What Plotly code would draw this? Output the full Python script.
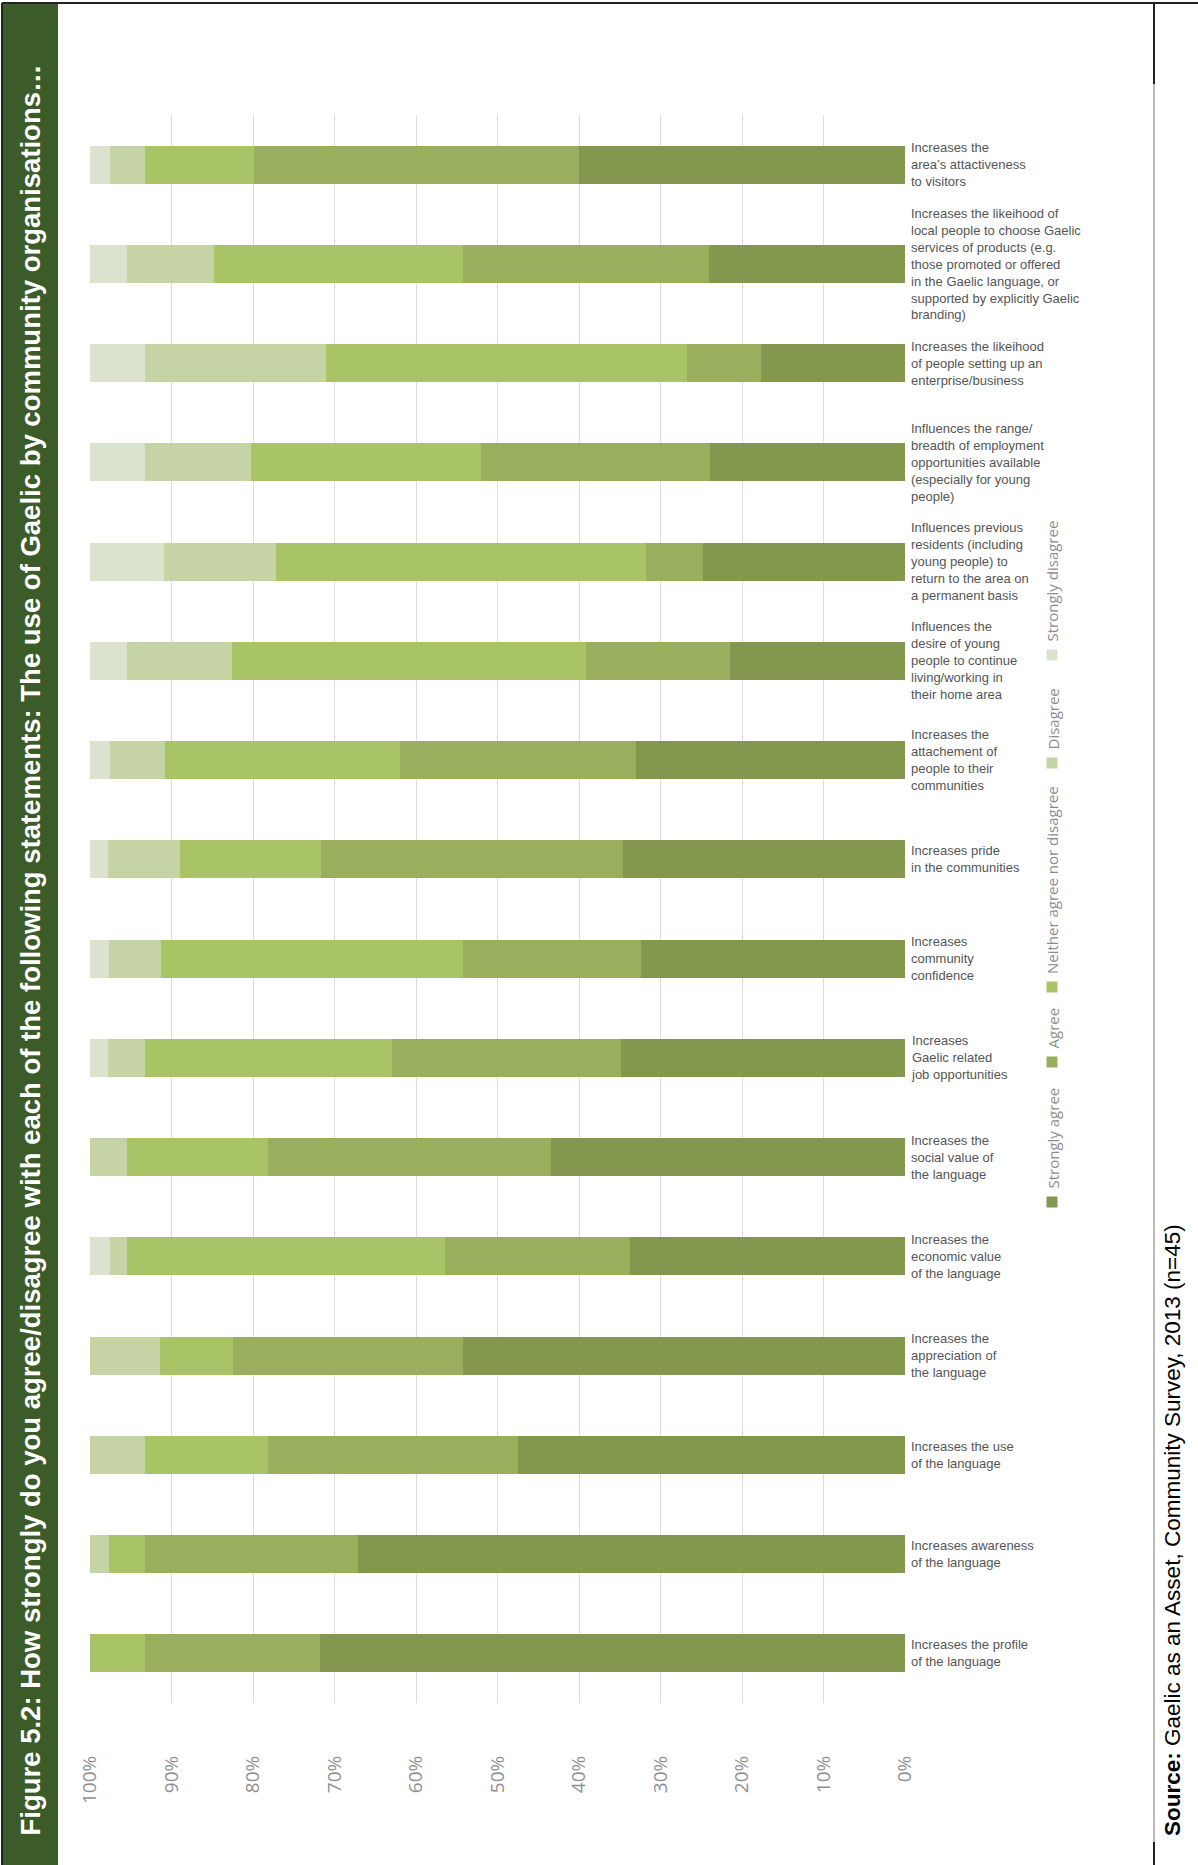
import plotly.graph_objects as go

# ---------------- data (top to bottom, as printed) ----------------
categories = [
    "Increases the<br>area’s attactiveness<br>to visitors",
    "Increases the likeihood of<br>local people to choose Gaelic<br>services of products (e.g.<br>those promoted or offered<br>in the Gaelic language, or<br>supported by explicitly Gaelic<br>branding)",
    "Increases the likeihood<br>of people setting up an<br>enterprise/business",
    "Influences the range/<br>breadth of employment<br>opportunities available<br>(especially for young<br>people)",
    "Influences previous<br>residents (including<br>young people) to<br>return to the area on<br>a permanent basis",
    "Influences the<br>desire of young<br>people to continue<br>living/working in<br>their home area",
    "Increases the<br>attachement of<br>people to their<br>communities",
    "Increases pride<br>in the communities",
    "Increases<br>community<br>confidence",
    "Increases<br>Gaelic related<br>job opportunities",
    "Increases the<br>social value of<br>the language",
    "Increases the<br>economic value<br>of the language",
    "Increases the<br>appreciation of<br>the language",
    "Increases the use<br>of the language",
    "Increases awareness<br>of the language",
    "Increases the profile<br>of the language",
]
strongly_agree    = [40.0, 24.1, 17.7, 23.9, 24.8, 21.5, 33.0, 34.6, 32.4, 34.8, 43.4, 33.8, 54.2, 47.5, 67.1, 71.8]
agree             = [39.9, 30.1,  9.0, 28.1,  7.0, 17.6, 29.0, 37.1, 21.8, 28.2, 34.7, 22.6, 28.2, 30.6, 26.1, 21.5]
neither           = [13.3, 30.6, 44.3, 28.2, 45.4, 43.5, 28.8, 17.3, 37.1, 30.2, 17.3, 39.0,  9.0, 15.1,  4.5,  6.8]
disagree          = [ 4.3, 10.6, 22.3, 13.0, 13.7, 12.8,  6.7,  8.8,  6.4,  4.6,  4.7,  2.2,  8.6,  6.8,  2.3,  0.0]
strongly_disagree = [ 2.5,  4.7,  6.8,  6.8,  9.1,  4.7,  2.5,  2.3,  2.3,  2.2,  0.0,  2.5,  0.0,  0.0,  0.0,  0.0]

series_names = ["Strongly agree", "Agree", "Neither agree nor disagree", "Disagree", "Strongly disagree"]
series_values = [strongly_agree, agree, neither, disagree, strongly_disagree]
series_colors = ["#84974f", "#9aaf5e", "#a9c367", "#c6d4a5", "#dbe2cd"]

tick_vals = list(range(0, 101, 10))
tick_text = [f"{v}%" for v in tick_vals]

title_text = ("Figure 5.2: How strongly do you agree/disagree with each of the following "
              "statements: The use of Gaelic by community organisations…")
source_text = "<b>Source:</b> Gaelic as an Asset, Community Survey, 2013 (n=45)"

# ---------------- layout geometry (page pixels) ----------------
W, H = 1198, 1865
PL, PR, PT, PB = 90, 905, 115, 1703   # plot area


def px(X):
    return (X - PL) / (PR - PL)


def py(Y):
    return 1 - (Y - PT) / (PB - PT)


fig = go.Figure()
for name, vals, col in zip(series_names, series_values, series_colors):
    fig.add_trace(go.Bar(
        y=categories, x=vals, name=name, orientation="h",
        marker=dict(color=col, line=dict(width=0)),
        showlegend=False,
    ))

shapes = [
    # green title band
    dict(type="rect", xref="paper", yref="paper", x0=px(3), x1=px(58), y0=py(1866), y1=py(3),
         fillcolor="#3b5b29", line=dict(width=0), layer="above"),
    # top border
    dict(type="line", xref="paper", yref="paper", x0=px(2), x1=px(1198), y0=py(3), y1=py(3),
         line=dict(color="#222", width=2)),
    # left border
    dict(type="line", xref="paper", yref="paper", x0=px(2), x1=px(2), y0=py(3), y1=py(1866),
         line=dict(color="#222", width=2)),
    # right divider
    dict(type="line", xref="paper", yref="paper", x0=px(1154), x1=px(1154), y0=py(3), y1=py(1866),
         line=dict(color="#777", width=1)),
    dict(type="line", xref="paper", yref="paper", x0=px(1154), x1=px(1154), y0=py(3), y1=py(84),
         line=dict(color="#222", width=2)),
    dict(type="line", xref="paper", yref="paper", x0=px(1154), x1=px(1154), y0=py(1842), y1=py(1866),
         line=dict(color="#222", width=2)),
]

annotations = []
# category labels to the right of the bars
for cat in categories:
    annotations.append(dict(
        xref="paper", yref="y", x=px(909), y=cat, text=cat, showarrow=False,
        xanchor="left", yanchor="middle", align="left",
        font=dict(family="Liberation Sans, Arial, sans-serif", size=13, color="#555555"),
    ))

# title (rotated)
annotations.append(dict(
    xref="paper", yref="paper", x=px(30), y=py(1838), text=f"<b>{title_text}</b>",
    showarrow=False, textangle=-90, xanchor="center", yanchor="bottom",
    font=dict(family="Liberation Sans, Arial, sans-serif", size=27.5, color="white"),
))
# source (rotated)
annotations.append(dict(
    xref="paper", yref="paper", x=px(1172), y=py(1838), text=source_text,
    showarrow=False, textangle=-90, xanchor="center", yanchor="bottom",
    font=dict(family="Liberation Sans, Arial, sans-serif", size=22.5, color="black"),
))

# manual rotated legend
LX = 1052
legend_y = [1202, 1062, 987, 763, 655]
for name, col, yc in zip(series_names, series_colors, legend_y):
    shapes.append(dict(type="rect", xref="paper", yref="paper",
                       x0=px(LX - 5.5), x1=px(LX + 5.5), y0=py(yc + 5.5), y1=py(yc - 5.5),
                       fillcolor=col, line=dict(width=0)))
    annotations.append(dict(
        xref="paper", yref="paper", x=px(LX), y=py(yc - 11), text=name,
        showarrow=False, textangle=-90, xanchor="center", yanchor="bottom",
        font=dict(family="Open Sans, sans-serif", size=15, color="#8c8c8c"),
    ))

fig.update_layout(
    width=W, height=H,
    margin=dict(l=PL, r=W - PR, t=PT, b=H - PB, pad=0),
    paper_bgcolor="white", plot_bgcolor="rgba(0,0,0,0)",
    barmode="stack", bargap=0.617,
    shapes=shapes, annotations=annotations,
    xaxis=dict(range=[100, 0], tickvals=tick_vals, ticktext=tick_text, tickangle=-90,
               showgrid=True, gridcolor="#dcdce0", gridwidth=1, zeroline=False, showline=False,
               ticks="", ticklabelstandoff=48,
               tickfont=dict(family="Open Sans, sans-serif", size=19, color="#8f8f8f")),
    yaxis=dict(autorange="reversed", showticklabels=False, showgrid=False, zeroline=False,
               showline=False, ticks=""),
)

fig.write_html("out.html", config={"displayModeBar": False},
               post_script="document.body.style.margin='0';document.body.style.overflow='hidden';")
